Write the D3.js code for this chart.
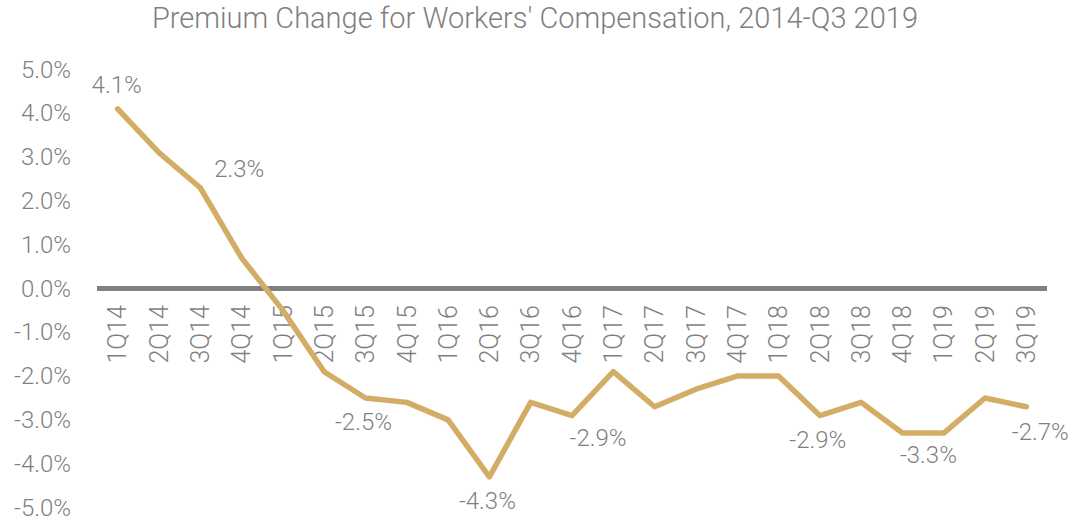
<!DOCTYPE html>
<html>
<head>
<meta charset="utf-8">
<script src="https://cdn.jsdelivr.net/npm/d3@7"></script>
<style>
  body { margin: 0; background: #fff; }
  svg text { font-family: Roboto, "Noto Sans", sans-serif; font-weight: 300; fill: #7f7f7f; }
</style>
</head>
<body>
<svg id="chart" width="1072" height="522"></svg>
<script>
// quarters and premium change (%)
var quarters = ['1Q14','2Q14','3Q14','4Q14','1Q15','2Q15','3Q15','4Q15','1Q16','2Q16','3Q16','4Q16',
                '1Q17','2Q17','3Q17','4Q17','1Q18','2Q18','3Q18','4Q18','1Q19','2Q19','3Q19'];
var change = [4.1, 3.1, 2.3, 0.7, -0.5, -1.9, -2.5, -2.6, -3.0, -4.3, -2.6, -2.9,
              -1.9, -2.7, -2.3, -2.0, -2.0, -2.9, -2.6, -3.3, -3.3, -2.5, -2.7];
var yTicks = [5, 4, 3, 2, 1, 0, -1, -2, -3, -4, -5];
// which points carry a value label, and where it goes
var labelIdx = [0, 2, 6, 9, 11, 17, 19, 22];
var labelPos = ['above', 'right', 'below', 'below', 'belowright', 'below', 'belowright', 'endright'];

var svg = d3.select('#chart');

var x = d3.scaleBand().domain(quarters).range([97, 1047]);
var y = d3.scaleLinear().domain([-5, 5]).range([507.5, 69.5]);
var cx = function(q) { return x(q) + x.bandwidth() / 2; };
// plain hyphen instead of d3's unicode minus
var pct = function(v) { return d3.format('.1f')(v).replace('\u2212', '-') + '%'; };

svg.append('text')
  .attr('x', 535)
  .attr('y', 18)
  .attr('dy', '0.35em')
  .attr('text-anchor', 'middle')
  .style('font-size', '29px')
  .text("Premium Change for Workers' Compensation, 2014-Q3 2019");

// y axis
var yAxis = svg.append('g')
  .attr('transform', 'translate(71,0)')
  .call(d3.axisLeft(y).tickValues(yTicks).tickSize(0).tickPadding(0).tickFormat(pct));
yAxis.select('.domain').remove();
yAxis.selectAll('text')
  .style('font-size', '24px')
  .attr('font-family', null)
  .attr('fill', null);

// zero line
svg.append('line')
  .attr('x1', 97).attr('x2', 1047)
  .attr('y1', y(0)).attr('y2', y(0))
  .attr('stroke', '#808080')
  .attr('stroke-width', 5);

// category labels
svg.append('g').selectAll('text')
  .data(quarters)
  .join('text')
  .attr('transform', function(d) { return 'translate(' + cx(d) + ',305) rotate(-90)'; })
  .attr('dy', '0.35em')
  .attr('text-anchor', 'end')
  .style('font-size', '25px')
  .text(function(d) { return d; });

// line
var line = d3.line()
  .x(function(d, i) { return cx(quarters[i]); })
  .y(function(d) { return y(d); });

svg.append('path')
  .datum(change)
  .attr('d', line)
  .attr('fill', 'none')
  .attr('stroke', '#D3AD65')
  .attr('stroke-width', 5.5)
  .attr('stroke-linejoin', 'round')
  .attr('stroke-linecap', 'round');

// value labels
var offsets = {
  above: [-1, -24],
  right: [39, -19],
  below: [-2, 24],
  belowright: [26, 22],
  endright: [14, 25]
};
svg.append('g').selectAll('text')
  .data(labelIdx)
  .join('text')
  .attr('x', function(d, k) { return cx(quarters[d]) + offsets[labelPos[k]][0]; })
  .attr('y', function(d, k) { return y(change[d]) + offsets[labelPos[k]][1]; })
  .attr('dy', '0.35em')
  .attr('text-anchor', 'middle')
  .style('font-size', '24px')
  .text(function(d) { return pct(change[d]); });
</script>
</body>
</html>
